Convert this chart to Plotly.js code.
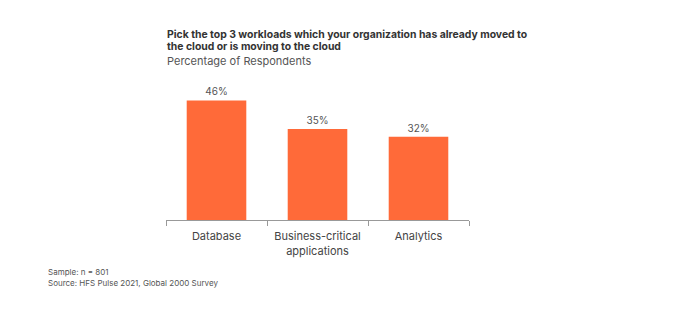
<!DOCTYPE html>
<html>
<head>
<meta charset="utf-8">
<script src="https://cdn.plot.ly/plotly-3.0.1.min.js"></script>
<style>html,body{margin:0;padding:0;background:#fff;}#chart{width:675px;height:321px;}</style>
</head>
<body>
<div id="chart"></div>
<script>
const categories = ["Database", "Business-critical<br>applications", "Analytics"];
const values = [46, 35, 32];
const valueLabels = ["46%", "35%", "32%"];

const font = "Inter, 'Noto Sans', sans-serif";

const trace = {
  type: "bar",
  x: categories,
  y: values,
  text: valueLabels,
  textposition: "outside",
  cliponaxis: false,
  textfont: {family: font, size: 10, color: "#555"},
  marker: {color: "#FF6A39"},
  width: 0.59,
  hoverinfo: "none"
};

const layout = {
  width: 675, height: 321,
  margin: {l: 166, r: 206, t: 90, b: 101},
  paper_bgcolor: "#fff", plot_bgcolor: "#fff",
  showlegend: false,
  font: {family: font, color: "#444"},
  xaxis: {
    showline: true, linecolor: "#999", linewidth: 1,
    ticks: "outside", tickson: "boundaries", ticklen: 5, tickcolor: "#999",
    ticklabelstandoff: 6,
    tickfont: {family: font, size: 11, color: "#444"},
    showgrid: false, zeroline: false, fixedrange: true
  },
  yaxis: {
    range: [0, 50], visible: false, showgrid: false, zeroline: false, fixedrange: true
  },
  annotations: [
    {text: "<b>Pick the top 3 workloads which your organization has already moved to</b>", xref: "paper", yref: "paper", x: -0.003, y: 1, xanchor: "left", yanchor: "bottom", yshift: 47, showarrow: false, font: {family: font, size: 10.4, color: "#333"}},
    {text: "<b>the cloud or is moving to the cloud</b>", xref: "paper", yref: "paper", x: -0.003, y: 1, xanchor: "left", yanchor: "bottom", yshift: 35, showarrow: false, font: {family: font, size: 10.4, color: "#333"}},
    {text: "Percentage of Respondents", xref: "paper", yref: "paper", x: -0.003, y: 1, xanchor: "left", yanchor: "bottom", yshift: 20, showarrow: false, font: {family: font, size: 11, color: "#555"}},
    {text: "Sample: n = 801", xref: "paper", yref: "paper", x: -120/303, y: 0, xanchor: "left", yanchor: "top", yshift: -45, showarrow: false, font: {family: font, size: 8, color: "#555"}},
    {text: "Source: HFS Pulse 2021, Global 2000 Survey", xref: "paper", yref: "paper", x: -120/303, y: 0, xanchor: "left", yanchor: "top", yshift: -56, showarrow: false, font: {family: font, size: 8, color: "#555"}}
  ]
};

Plotly.newPlot("chart", [trace], layout, {displayModeBar: false, staticPlot: true});
</script>
</body>
</html>
